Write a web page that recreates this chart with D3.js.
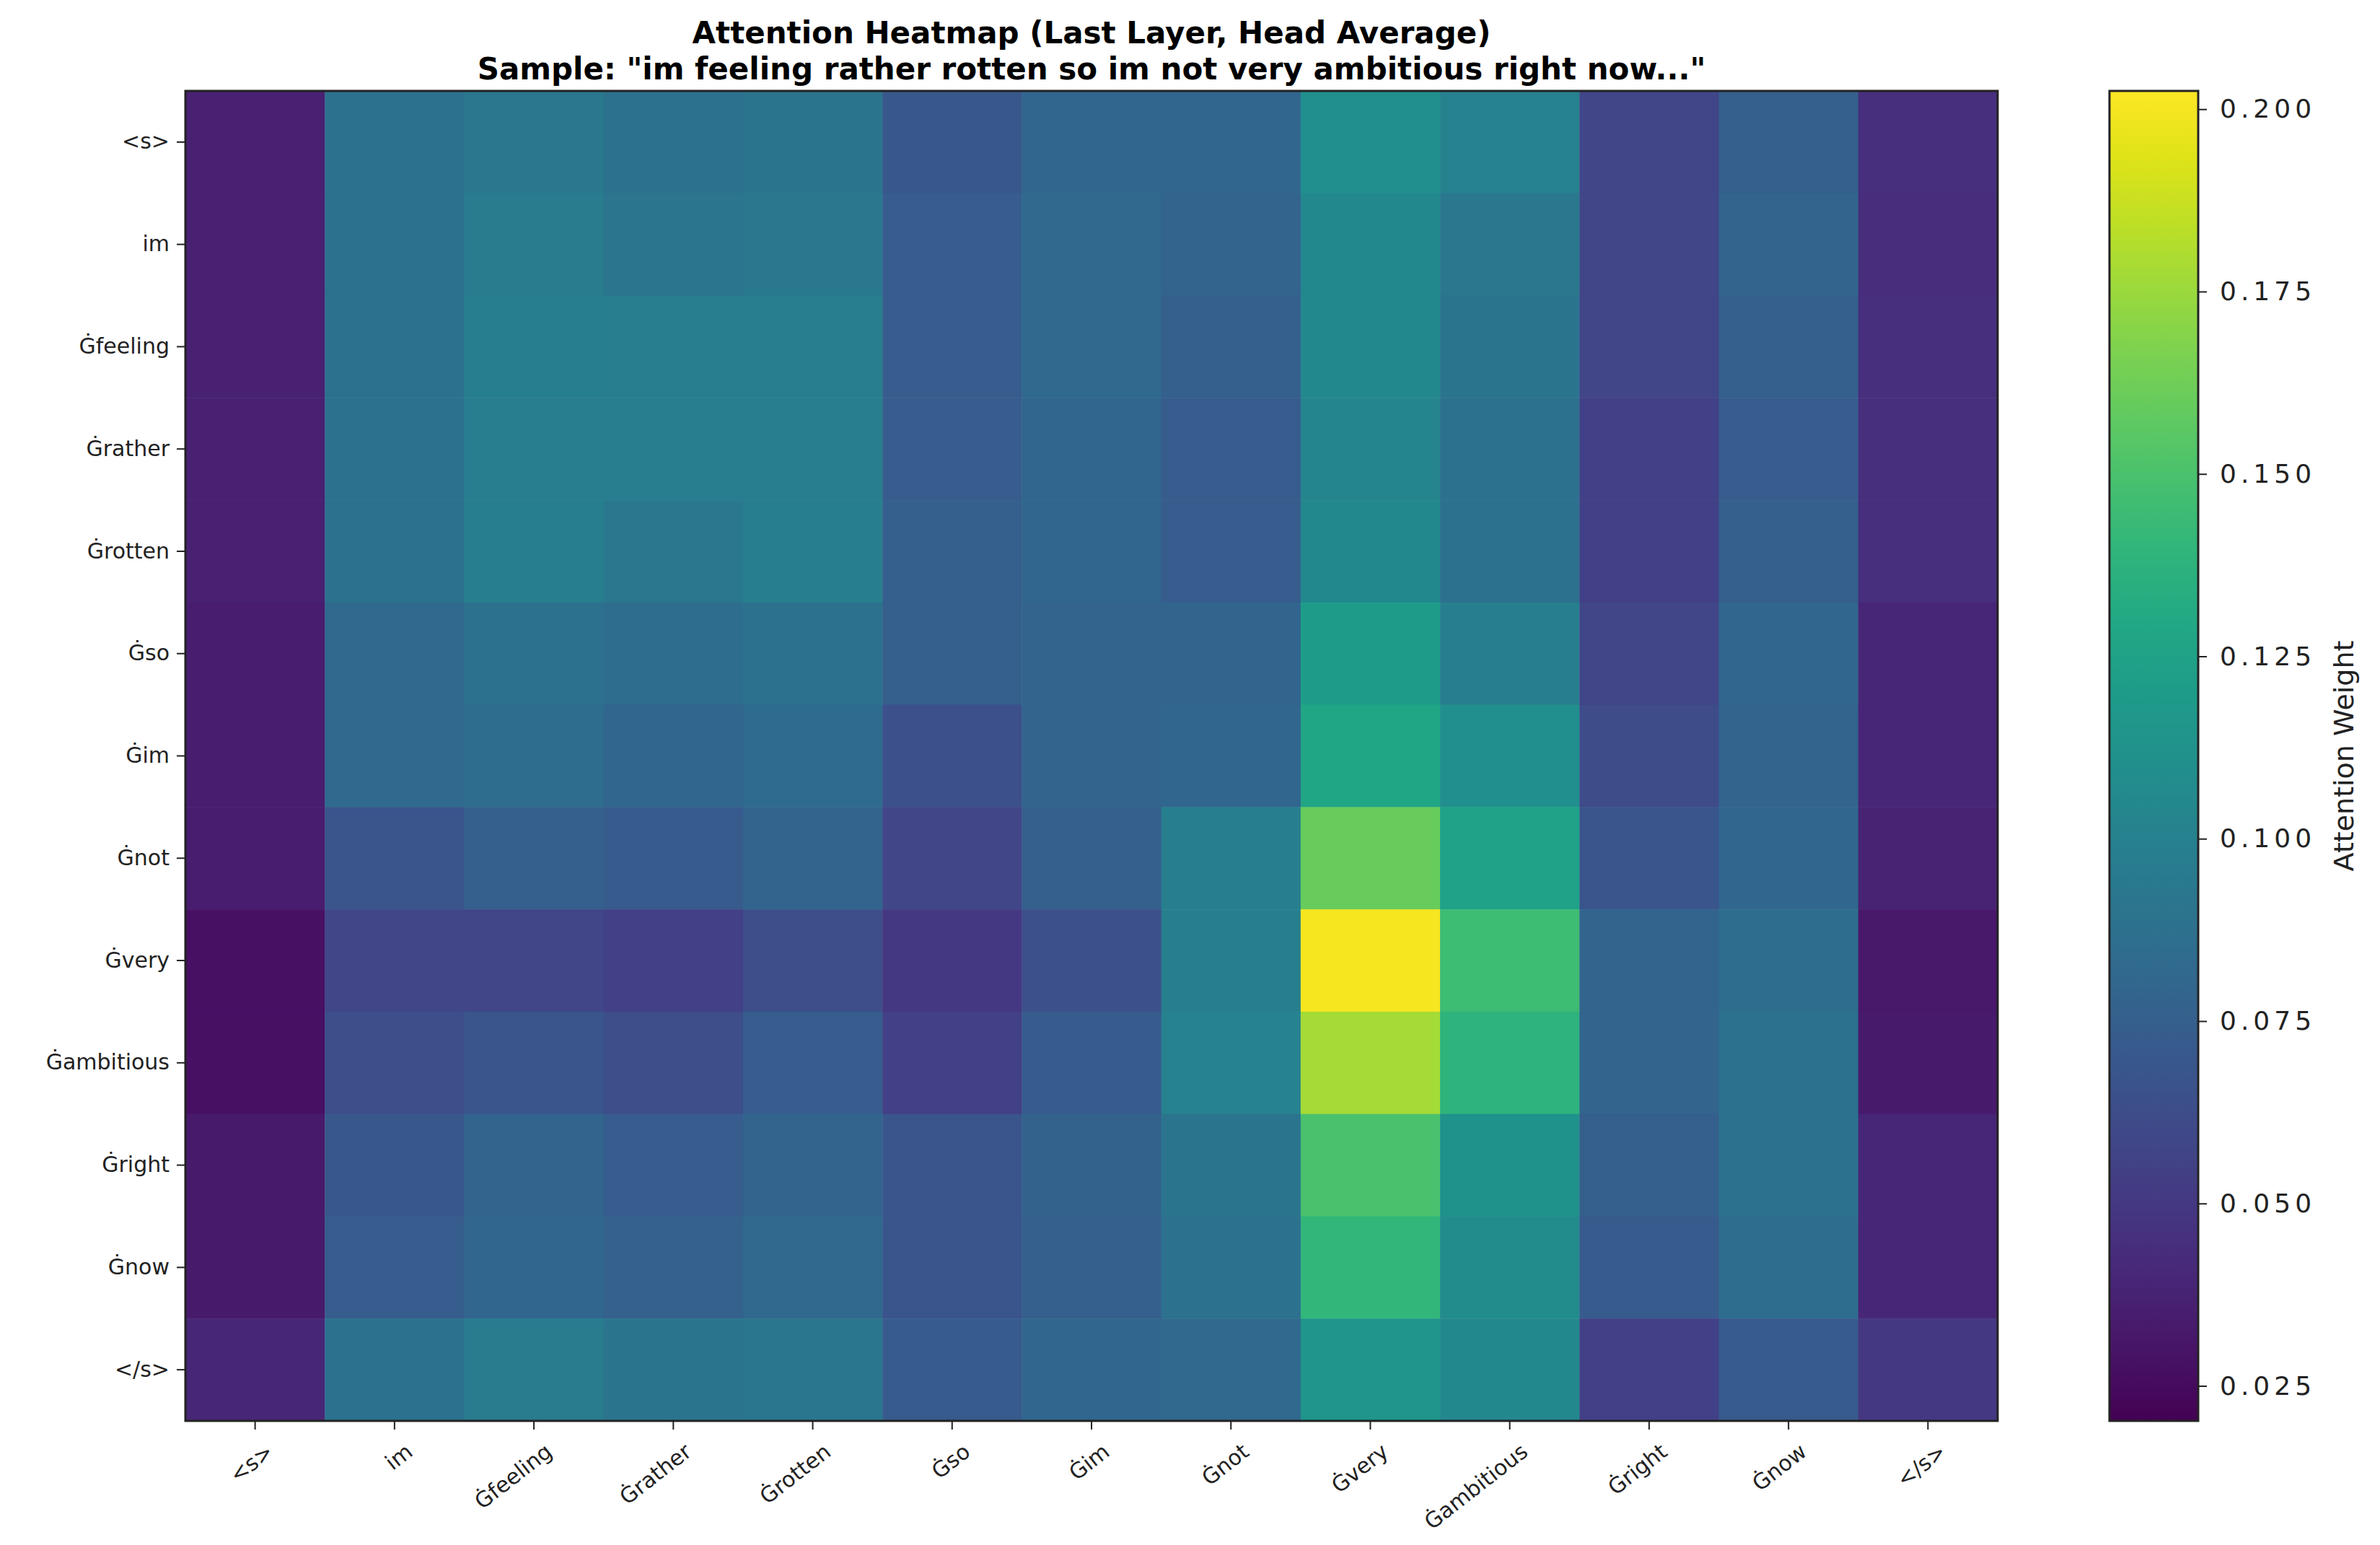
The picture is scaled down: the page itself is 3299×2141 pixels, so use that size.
<!DOCTYPE html>
<html><head><meta charset="utf-8">
<script src="https://cdn.jsdelivr.net/npm/d3@7"></script>
<style>body{margin:0;background:#fff}text{font-family:"DejaVu Sans",sans-serif}</style>
</head><body><svg id="chart" width="3299" height="2141"></svg>
<script>
const tokens = ["<s>","im","Ġfeeling","Ġrather","Ġrotten","Ġso","Ġim","Ġnot","Ġvery","Ġambitious","Ġright","Ġnow","</s>"];
// one column of attention per key token (top to bottom = query rows)
const colS = [0.037,0.037,0.037,0.037,0.037,0.035,0.035,0.034,0.028,0.028,0.033,0.033,0.040];
const colIm = [0.088,0.088,0.088,0.088,0.088,0.082,0.082,0.068,0.058,0.063,0.070,0.073,0.088];
const colFeeling = [0.093,0.095,0.098,0.097,0.098,0.088,0.085,0.075,0.058,0.068,0.078,0.080,0.095];
const colRather = [0.088,0.091,0.097,0.097,0.093,0.085,0.080,0.072,0.055,0.063,0.073,0.076,0.090];
const colRotten = [0.090,0.093,0.097,0.097,0.098,0.088,0.083,0.078,0.063,0.073,0.078,0.082,0.092];
const colSo = [0.070,0.073,0.073,0.073,0.075,0.075,0.065,0.058,0.050,0.055,0.068,0.068,0.072];
const colIm2 = [0.080,0.082,0.082,0.080,0.080,0.078,0.078,0.075,0.065,0.072,0.077,0.075,0.080];
const colNot = [0.080,0.078,0.075,0.073,0.073,0.078,0.080,0.098,0.098,0.100,0.090,0.088,0.082];
const colVery = [0.110,0.105,0.105,0.103,0.105,0.120,0.128,0.160,0.200,0.178,0.150,0.140,0.115];
const colAmbitious = [0.100,0.093,0.090,0.088,0.088,0.098,0.110,0.125,0.145,0.138,0.113,0.108,0.105];
const colRight = [0.058,0.058,0.058,0.055,0.055,0.058,0.062,0.068,0.078,0.078,0.075,0.072,0.055];
const colNow = [0.075,0.078,0.075,0.073,0.075,0.080,0.078,0.080,0.085,0.088,0.088,0.085,0.072];
const colEnd = [0.045,0.043,0.045,0.045,0.045,0.040,0.040,0.038,0.032,0.033,0.040,0.040,0.050];
const columns = [colS,colIm,colFeeling,colRather,colRotten,colSo,colIm2,colNot,colVery,colAmbitious,colRight,colNow,colEnd];
const cbTicks = [0.025,0.050,0.075,0.100,0.125,0.150,0.175,0.200];
const vMin = 0.0202, vMax = 0.2025;

const svg = d3.select("#chart");
const L = 257, R = 2769, T = 126, B = 1969;

const x = d3.scaleBand().domain(tokens).range([L, R]);
const y = d3.scaleBand().domain(tokens).range([T, B]);
const color = d3.scaleSequential(d3.interpolateViridis).domain([vMin, vMax]);

const cells = [];
columns.forEach((col, j) => col.forEach((v, i) => cells.push({r: tokens[i], c: tokens[j], v})));

svg.append("g").selectAll("rect").data(cells).enter().append("rect")
  .attr("x", d => x(d.c)).attr("y", d => y(d.r))
  .attr("width", x.bandwidth() + 0.5).attr("height", y.bandwidth() + 0.5)
  .attr("fill", d => color(d.v));

svg.append("rect").attr("x", L).attr("y", T).attr("width", R - L).attr("height", B - T)
  .attr("fill", "none").attr("stroke", "#222").attr("stroke-width", 3);

const yAxis = svg.append("g").attr("transform", `translate(${L},0)`)
  .call(d3.axisLeft(y).tickSize(12).tickPadding(10));
yAxis.select(".domain").remove();
yAxis.selectAll("text").style("font-size", "30px").attr("fill", "#222");
yAxis.selectAll("line").attr("stroke", "#222").attr("stroke-width", 2);

const xAxis = svg.append("g").attr("transform", `translate(0,${B})`)
  .call(d3.axisBottom(x).tickSize(12).tickPadding(10));
xAxis.select(".domain").remove();
xAxis.selectAll("line").attr("stroke", "#222").attr("stroke-width", 2);
xAxis.selectAll("text").style("font-size", "30px").attr("fill", "#222")
  .attr("text-anchor", "end").attr("dy", "0.3em")
  .attr("transform", "translate(8,22) rotate(-38)");

// title
svg.append("text").attr("x", 1513).attr("y", 60).attr("text-anchor", "middle")
  .style("font-size", "42px").style("font-weight", "bold")
  .text("Attention Heatmap (Last Layer, Head Average)");
svg.append("text").attr("x", 1513).attr("y", 110).attr("text-anchor", "middle")
  .style("font-size", "42px").style("font-weight", "bold")
  .text('Sample: "im feeling rather rotten so im not very ambitious right now..."');

// colorbar
const cbL = 2924, cbW = 123;
const cy = d3.scaleLinear().domain([vMin, vMax]).range([B, T]);
const grad = svg.append("defs").append("linearGradient").attr("id", "vg")
  .attr("x1", 0).attr("y1", 1).attr("x2", 0).attr("y2", 0);
d3.range(0, 1.0001, 0.05).forEach(t => grad.append("stop")
  .attr("offset", t).attr("stop-color", d3.interpolateViridis(t)));
svg.append("rect").attr("x", cbL).attr("y", T).attr("width", cbW).attr("height", B - T)
  .attr("fill", "url(#vg)").attr("stroke", "#222").attr("stroke-width", 3);
const cAxis = svg.append("g").attr("transform", `translate(${cbL + cbW},0)`)
  .call(d3.axisRight(cy).tickValues(cbTicks).tickFormat(d3.format(".3f")).tickSize(12).tickPadding(18));
cAxis.select(".domain").remove();
cAxis.selectAll("line").attr("stroke", "#222").attr("stroke-width", 2);
cAxis.selectAll("text").style("font-size", "36px").style("letter-spacing", "6px").attr("fill", "#222");

svg.append("text").attr("transform", `translate(3262,${(T + B) / 2}) rotate(-90)`)
  .attr("text-anchor", "middle").style("font-size", "38px").attr("fill", "#222")
  .text("Attention Weight");
</script></body></html>
